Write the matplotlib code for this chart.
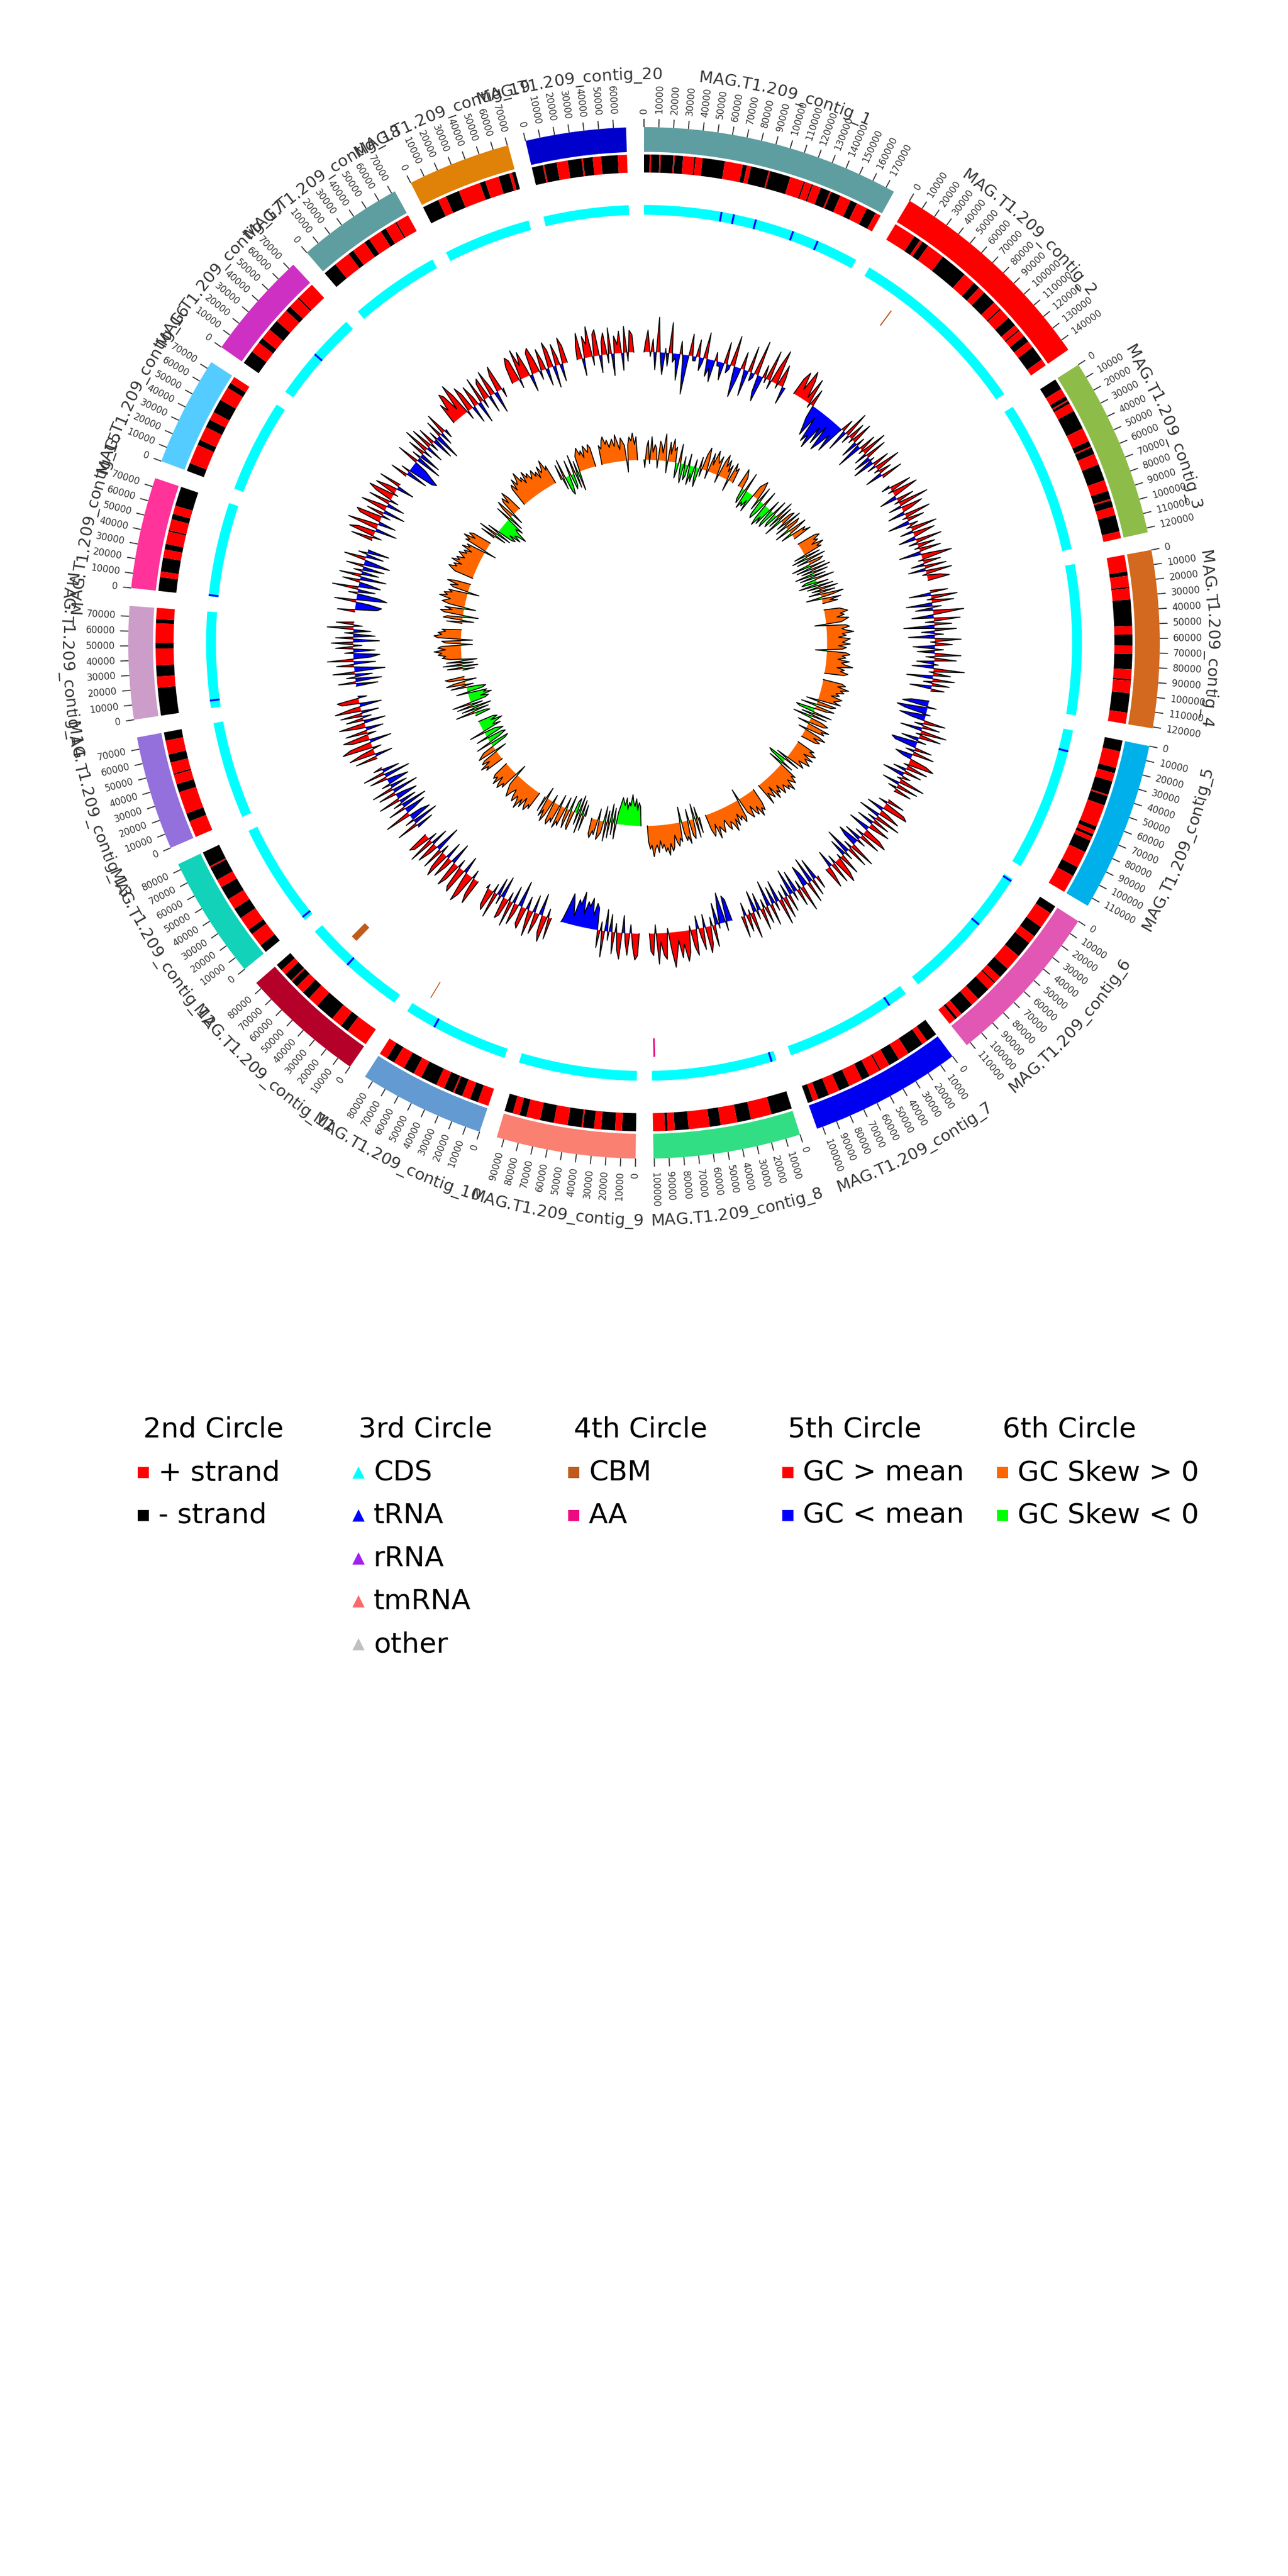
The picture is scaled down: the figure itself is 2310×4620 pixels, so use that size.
import numpy as np
import matplotlib
matplotlib.use("Agg")
import matplotlib.pyplot as plt
from matplotlib.font_manager import FontProperties, findfont
from matplotlib.ft2font import FT2Font

plt.rcParams['font.family'] = ['DejaVu Sans']

# ---------------- data ----------------
contig_names = [f"MAG.T1.209_contig_{i}" for i in range(1, 21)]
contig_lengths_kb = [176, 148, 123, 121, 116, 113, 104, 100.5, 95, 86,
                     85, 84, 78, 77, 76, 75, 74, 72.5, 70.5, 68.5]
contig_colors = ["#5F9EA0", "#FF0000", "#8DBD48", "#D2691E", "#00B0EA",
                 "#E157B3", "#0000F0", "#32DE84", "#FA8072", "#639AD2",
                 "#B5002A", "#13D2BA", "#9370DB", "#CD9DC9", "#FF3399",
                 "#55CCFF", "#CF30C4", "#5F9EA0", "#DF8207", "#0000CC"]

# 2nd circle: gene strand runs in kb (positive = + strand, negative = - strand)
strand_runs = [
    [-4, 1, -6, 1, -9, 1, -6, 8, -1, 5, -16, 13, -3, 3, -13, 1, -15, 10, -1, 5, -1, 6, -7, 1, -7, 8, -5, 8, -7, 4],
    [16, -5, 2, -5, 13, -20, 9, -5, 5, -10, 6, -1, 8, -7, 4, -1, 5, -5, 5, -11, 5],
    [-8, 6, -3, 1, -2, 6, -14, 10, -4, 1, -5, 8, -12, 8, -6, 1, -5, 6, -12, 5],
    [12, -3, 8, -1, 8, -19, 6, -8, 6, -11, 7, -1, 9, -14, 8],
    [-8, 12, -4, 6, -10, 1, -7, 16, -3, 3, -2, 3, -9, 12, -7, 13],
    [-6, 12, -8, 6, -12, 12, -8, 5, -1, 6, -10, 6, -10, 4, -2, 5],
    [-8, 4, -12, 8, -8, 7, -1, 8, -6, 10, -8, 8, -8, 4, -4],
    [-15, 15, -10, 12, -8, 15, -10, 5, -2, 8.5],
    [-10, 5, -10, 5, -8, 1, -10, 10, -10, 10, -5, 5, -6],
    [8, -6, 6, -6, 1, -7, 6, -12, 6, -8, 8, -6, 6],
    [16, -6, 8, -14, 8, -6, 6, -5, 1, -6, 4, -5],
    [-6, 10, -4, 10, -8, 8, -10, 6, -10, 1, -11],
    [12, -6, 16, -6, 7, -1, 8, -6, 10, -6],
    [-20, 8, -8, 12, -4, 14, -3, 8],
    [-10, 4, -10, 6, -4, 9, -1, 8, -4, 6, -14],
    [-6, 14, -4, 10, -6, 6, -10, 10, -4, 5],
    [-10, 8, -4, 8, -8, 10, -4, 8, -1, 13],
    [-10, 12, -4, 10, -4, 10, -4, 8, -1, 9.5],
    [-12, 6, -10, 16, -4, 10, -8, 2, -2.5],
    [-8, 1, -9, 8, -10, 1, -7, 6, -12, 6.5],
]

# 3rd circle: tRNA sites (contig number, position kb)
trna_sites = [(1, 62), (1, 72), (1, 90), (1, 121), (1, 142), (5, 17), (6, 2), (6, 45),
              (7, 16), (8, 4), (10, 61), (11, 48), (12, 3), (14, 6), (15, 1), (17, 38)]

# 4th circle: CAZy features (contig number, start kb, length kb)
cbm_sites = [(2, 34, 1.0), (10, 75, 0.8), (11, 56, 5.5)]
aa_sites = [(8, 97.5, 1.5)]

# 5th circle: GC content deviation from mean (3 kb windows along each contig)
gc_content = [
    [2, 5, -1, 3, -4, 8, -1, -5, 1, -3, 7, -2, -1, -6, 3, -1, -9, -2, 5, -1, -1, 4, -3, -1, 6, -4, -2, -5, 2, -1, -1, -4, 5, -2, -1, 7, -2, -7, -3, 4, -1, -6, 6, -2, -1, 8, -4, -6, 3, -1, 7, -2, 4, 8, -1, 5, 2, -4],
    [4, 6, 2, 7, 5, 1, 6, -1, 4, -3, -5, -7, -2, -8, -6, -9, -3, -7, -2, -8, -6, -3, -7, -1, 3, -5, 6, -2, 4, -1, 5, -4, 2, -6, 4, -1, 6, -3, 5, -4, 1, -5, 4, -2, 6, -1, 3, -4, 5],
    [-2, 5, -1, 6, 1, -4, 4, -1, 7, -3, 5, 2, -4, 6, -1, 4, -5, 2, -1, 6, -3, 5, 1, -4, 6, -2, 4, -1, 5, -5, 2, 7, -1, 4, -3, 5, -4, 6, -1, 3, 5],
    [4, -5, 6, -1, 5, -6, 2, -4, 7, 1, -5, 6, -2, 4, -7, 5, -3, 2, -6, 6, -1, 4, -5, 2, -4, 6, -2, 5, -4, 1, -5, 7, -1, 4, -6, 5, -2, 4, -5, 3],
    [-4, -6, 2, -7, -5, 1, -6, -3, 5, -2, 4, -5, 6, -1, 5, -4, 2, -6, -5, 4, -2, 5, -4, -2, 4, 6, -1, 5, -3, 4, -5, 2, -1, 6, -4, 5, -2, 4],
    [4, -2, 5, 6, -4, 2, 5, -5, 6, -2, 4, -4, 5, 1, -5, 4, 6, -2, 5, -4, 2, -5, -3, 6, -2, 5, -6, 2, -4, 5, -1, 4, 6, -2, 5, -4, 2, 5],
    [3, -5, 4, -6, 5, -3, -5, 6, -2, 4, -5, 2, -6, 4, -3, 5, -2, 6, -5, 2, -4, 5, -6, 4, -2, 5, -4, 2, -5, 6, -1, 4, -3, 5],
    [-5, -6, 2, -7, -4, 1, -5, 5, -2, 4, 6, -3, 5, 2, -3, 6, 4, -1, 5, 7, 3, 6, 2, 5, 8, 4, -1, 6, 5, 2, 7, -2, 5, 4],
    [5, 6, 3, -2, 5, 2, -4, 6, 4, -2, 5, -4, 2, -5, 6, -2, 4, -5, -6, -3, -7, -5, -6, -3, -8, -5, -6, -2, -5, -7, -4, -1],
    [5, -2, 6, 4, -5, 2, 5, -4, 6, 2, -3, 5, 4, -6, 2, 5, -4, 6, -2, 4, 5, -5, 2, -4, 6, -2, 5, 4, -1],
    [6, 4, -2, 5, 7, 2, -4, 6, 5, -2, 4, 6, -5, 2, 5, -4, 6, 4, -2, 5, -6, 2, 5, -4, 6, -2, 4, 5],
    [-4, 5, -6, 2, -5, -3, 6, -2, -5, 4, -6, 2, -4, 5, -5, -2, 4, -6, 5, -4, 2, -5, -2, 4, -6, 5, -4, 2],
    [5, -4, 6, 3, -2, 7, 5, -5, 4, 6, -2, 5, -4, 2, 6, -5, 4, -2, 5, -4, 6, 2, -5, 4, 5, -2],
    [-5, 4, -6, 2, -4, 5, -7, -2, 4, -5, 6, -4, -6, 2, -5, 4, -2, 5, -6, 4, -5, 2, -4, 6, -2, 4],
    [4, -5, -6, -3, 5, -7, -5, 2, -4, 6, -5, -2, 4, -6, 5, -4, 2, -5, 4, -6, -2, 5, -4, 2, -5],
    [5, -2, 6, 4, -5, 7, 2, -4, 5, 6, -2, 4, -5, 6, 2, -4, 5, -2, 4, 6, -1, 5, 2, -4, 5],
    [4, -5, 2, -6, -7, -5, -3, 5, -6, 2, -5, 4, -2, 6, -4, 5, -2, 4, -5, 2, -6, 4, -3, 5, -2],
    [5, 3, 7, 6, 2, 8, 5, -2, 6, 4, -4, 5, 2, -5, 6, -2, 4, 5, -4, 6, 2, -5, 4, 6, -2],
    [4, 6, 5, -2, 7, 3, 6, 2, -4, 5, 6, 3, -2, 5, 2, -4, 6, 4, -5, 5, 2, -4, 6, 4],
    [3, 6, -4, 5, 3, 7, -2, 5, 6, -4, 3, 5, -2, 6, -5, 4, 2, 5, -4, 6, -2, 5, 4],
]

# 6th circle: GC skew (3 kb windows along each contig)
gc_skew = [
    [-2, 3, 5, -1, 6, 2, 4, 3, -2, 5, 4, 2, 7, 3, -3, 5, 2, 6, 3, 4, -4, -2, 5, -3, -5, 2, -4, -3, 3, -5, -2, -4, 2, -3, -5, 3, -2, 4, 6, 3, -2, 5, 2, 6, 4, 3, 5, -2, 4, 6, 3, 5, 2, 4, -3, 5, 3, 4],
    [5, 4, 3, -3, -4, 5, -5, -3, -4, -2, -5, 3, 4, 5, 3, -3, 4, -4, -5, -3, 4, -4, -6, -3, -5, 3, -4, -5, 4, -3, -4, 5, -3, 4, -5, 3, 4, -2, 5, -3, 4, 3, -4, 5, 2, -3, 4, 3, 5],
    [5, 6, 4, 5, 3, 6, 4, 5, -3, 4, -4, 5, -3, 4, 3, -5, 4, -4, 5, -3, 4, -5, 3, -4, 5, -3, -4, 3, -5, 4, -3, 5, -2, 4, -3, 6, 3, -4, 5, 2, 4],
    [4, 5, 6, 4, 5, 3, 6, 5, 4, -3, 5, 6, 4, 5, 7, 4, 5, 3, 6, 5, 4, 6, 3, 5, 4, -3, 5, 6, 4, 5, 3, 6, 4, 5, 7, 3, 5, 4, 6, 5],
    [5, 6, 4, 7, 5, 6, 4, 5, 3, 6, 5, 4, 6, -3, 5, 4, -4, 5, 3, -5, -4, 5, -3, 4, -5, 3, 5, 4, -3, 6, 4, 5, -2, 4, 6, 3, 5, 4],
    [5, 4, 6, 5, 3, 6, 4, 5, 6, 3, 4, 5, -3, 4, -5, -4, 3, -4, 5, 4, 6, 5, 4, 7, 5, 6, 4, 5, 6, 3, 5, 4, 6, 2, 5, 4, 3, 6],
    [4, 6, 5, 7, 4, 6, 5, 3, 6, 5, 4, -3, 5, 6, 4, 5, 3, 6, 4, 7, 5, 4, 6, 5, 3, 4, 6, 5, 4, 7, 3, 5, 6, 4],
    [4, -3, 5, -4, 3, 5, 4, -3, 6, 4, 5, 3, -4, 5, 4, 6, 5, 3, 6, 7, 5, 8, 6, 7, 5, 6, 4, 7, 5, 6, 8, 5, 6, 4],
    [-5, -6, -4, -7, -5, -6, -8, -5, -6, -4, -7, -5, -6, -7, -5, -3, 4, -4, 3, -5, 4, -3, 5, -4, 3, 4, 5, -3, 4, 3, 5, 4],
    [-3, 4, -4, 5, -5, 3, -4, -3, 5, 4, -4, 5, 3, -3, 5, 4, 6, -3, 5, 4, 6, 5, -2, 4, 6, 3, 5, -3, 4],
    [5, 4, 6, 5, 3, 6, 4, 7, 5, 4, 6, 5, 3, 4, 6, 5, 4, 3, -3, 5, 4, 6, 5, 3, 6, 4, 5, 4],
    [5, 4, 6, 3, 5, 4, -3, 5, 4, 3, -4, -5, 4, -3, -5, -4, 3, -5, -4, -3, 4, -5, -3, -4, -6, -3, -5, -4],
    [-4, -3, 5, -4, 3, -5, 4, -3, 5, -4, -5, -3, -6, -4, -5, 3, -4, -5, -3, 4, -2, 5, 3, -3, 4, 5],
    [-3, 4, -4, 5, -3, 4, -4, 3, 5, 4, 6, 5, 7, 4, 6, 5, -3, 4, 5, -3, 6, 7, 5, 6, 4, 5],
    [4, -3, 5, 4, -4, 5, 6, 3, 5, -3, 4, 6, 5, 4, 7, 5, 6, 4, 5, -3, 4, 5, 3, 6, 4],
    [5, 6, 7, 5, 6, 4, 7, 5, 6, 4, 5, 6, 4, 5, 3, 6, 4, 5, -3, 6, 5, 7, 4, 6, 5],
    [4, -3, 5, -4, 3, -4, -5, -3, -6, -4, -5, -7, -4, -3, -5, 4, -4, 3, 5, -3, 4, 5, 3, 6, 4],
    [5, 6, 4, 7, 5, 6, 8, 5, 6, 4, 7, 5, 6, 4, 5, 6, 4, 5, 3, 6, 4, 5, 7, 4, 5],
    [4, -3, 5, -4, -5, -3, 4, -4, -3, 5, -4, 3, -5, 4, 5, 6, 4, 5, 3, 6, 5, 4, 6, 5],
    [5, 4, 6, 7, 5, 6, 4, 5, 6, 4, 7, 5, 3, 6, 5, 4, -3, 4, 6, 5, 7, 4, 6],
]

legend_groups = [
    ("2nd Circle", [("+ strand", "s", "#FF0000"), ("- strand", "s", "#000000")]),
    ("3rd Circle", [("CDS", "^", "#00FFFF"), ("tRNA", "^", "#0000FF"), ("rRNA", "^", "#A020F0"),
                    ("tmRNA", "^", "#F86A6A"), ("other", "^", "#C0C0C0")]),
    ("4th Circle", [("CBM", "s", "#BF5B1D"), ("AA", "s", "#EE0A80")]),
    ("5th Circle", [("GC > mean", "s", "#FF0000"), ("GC < mean", "s", "#0000FF")]),
    ("6th Circle", [("GC Skew > 0", "s", "#FF6600"), ("GC Skew < 0", "s", "#00FF00")]),
]

# ---------------- layout ----------------
W, H, DPI = 2310, 4620, 300
fig = plt.figure(figsize=(W / DPI, H / DPI), dpi=DPI)
fig.patch.set_facecolor("white")
CX, CY, R = 1155, 1153, 925
RMAX = 1.2
ax = fig.add_axes([(CX - RMAX * R) / W, (H - CY - RMAX * R) / H,
                   2 * RMAX * R / W, 2 * RMAX * R / H], projection="polar")
ax.set_theta_zero_location("N")
ax.set_theta_direction(-1)
ax.set_ylim(0, RMAX)
ax.set_axis_off()

GAP = 2.0
n_ctg = len(contig_lengths_kb)
deg_per_kb = (360.0 - GAP * n_ctg) / sum(contig_lengths_kb)
starts = []
acc = 0.0
for L in contig_lengths_kb:
    starts.append(acc)
    acc += L * deg_per_kb + GAP


def th(ci, kb):
    return np.deg2rad(starts[ci] + np.asarray(kb, dtype=float) * deg_per_kb)


def wid(kb):
    return np.deg2rad(kb * deg_per_kb)


TXT = "#333333"
NAME_FS = 7.0
name_prop = FontProperties(family="DejaVu Sans", size=NAME_FS)
ft = FT2Font(findfont(name_prop))
ft.set_size(NAME_FS, 72)


def char_adv_px(ch):
    g = ft.load_char(ord(ch))
    return g.linearHoriAdvance / 65536.0 * DPI / 72.0


def curved_name(tmid_deg, text):
    advs = [char_adv_px(c) for c in text]
    total = sum(advs)
    bottom = 90 < tmid_deg < 270
    r_base = 1.1295 if bottom else 1.0925
    rpx = r_base * R
    span = np.rad2deg(total / rpx)
    cum = 0.0
    for ch, a in zip(text, advs):
        off = np.rad2deg((cum + a / 2) / rpx)
        if bottom:
            tc = tmid_deg + span / 2 - off
            rot = 180 - tc
        else:
            tc = tmid_deg - span / 2 + off
            rot = -tc
        ax.text(np.deg2rad(tc), r_base, ch, rotation=rot, rotation_mode="anchor",
                ha="center", va="baseline", fontproperties=name_prop, color=TXT)
        cum += a


def signed_track(ci, values, base, amp, pos_col, neg_col):
    L = contig_lengths_kb[ci]
    vals = np.asarray(values, dtype=float)
    n = len(vals)
    x = np.concatenate([[0], (np.arange(n) + 0.5) * L / n, [L]])
    v = np.concatenate([[0], vals, [0]])
    tt = th(ci, x)
    rr = base + v * amp
    ax.fill_between(tt, base, rr, where=rr >= base, interpolate=True, color=pos_col, lw=0)
    ax.fill_between(tt, base, rr, where=rr <= base, interpolate=True, color=neg_col, lw=0)
    ax.plot(tt, rr, color="black", lw=0.4)


for ci, (name, L, col) in enumerate(zip(contig_names, contig_lengths_kb, contig_colors)):
    # 1st circle: ideogram
    ax.bar(th(ci, L / 2), 0.048, width=wid(L), bottom=0.952, color=col, lw=0)
    # ticks
    for p in np.arange(0, L + 1e-6, 10):
        t = th(ci, p)
        ax.plot([t, t], [1.0, 1.016], color=TXT, lw=0.45, solid_capstyle="butt")
        tdeg = starts[ci] + p * deg_per_kb
        if tdeg <= 180:
            rot, ha = 90 - tdeg, "left"
        else:
            rot, ha = 270 - tdeg, "right"
        ax.text(t, 1.026, f"{int(p * 1000)}", rotation=rot, rotation_mode="anchor",
                ha=ha, va="center", fontsize=4, color=TXT)
    # sector name (curved along the circle)
    curved_name(starts[ci] + L / 2 * deg_per_kb, name)

    # 2nd circle: strands
    pos = 0.0
    for v in strand_runs[ci]:
        ln = min(abs(v), L - pos)
        if ln <= 0:
            break
        ax.bar(th(ci, pos + ln / 2), 0.035, width=wid(ln), bottom=0.912,
               color="#FF0000" if v > 0 else "#000000", lw=0)
        pos += ln

    # 3rd circle: CDS band
    ax.bar(th(ci, L / 2), 0.019, width=wid(L), bottom=0.830, color="#00FFFF", lw=0)

    # 5th circle: GC content ; 6th circle: GC skew
    signed_track(ci, gc_content[ci], 0.564, 0.0085, "#FF0000", "#0000FF")
    signed_track(ci, gc_skew[ci], 0.355, 0.0075, "#FF6600", "#00FF00")

# tRNA marks on 3rd circle
for c, p in trna_sites:
    ax.bar(th(c - 1, p), 0.019, width=wid(1.5), bottom=0.830, color="#0000FF", lw=0)

# 4th circle
for c, p, ln in cbm_sites:
    ax.bar(th(c - 1, p + ln / 2), 0.036, width=wid(ln), bottom=0.767, color="#BF5B1D", lw=0)
for c, p, ln in aa_sites:
    ax.bar(th(c - 1, p + ln / 2), 0.036, width=wid(ln), bottom=0.767, color="#EE0A80", lw=0)

# ---------------- legend ----------------
lax = fig.add_axes([0, 0, 1, 1])
lax.set_xlim(0, W)
lax.set_ylim(H, 0)
lax.set_axis_off()
col_x = [257, 643, 1029, 1413, 1798]
title_y, row_dy = 2564, 77
for gx, (title, items) in zip(col_x, legend_groups):
    lax.text(gx, title_y, title, ha="left", va="center", fontsize=12, color="black")
    for k, (lab, mk, colr) in enumerate(items):
        y = title_y + row_dy * (k + 1)
        lax.plot([gx], [y], marker=mk, ms=5 if mk == "s" else 5.5, color=colr, mew=0, ls="none")
        lax.text(gx + 27, y, lab, ha="left", va="center", fontsize=12, color="black")

fig.savefig("out.png", dpi=DPI, facecolor="white")
